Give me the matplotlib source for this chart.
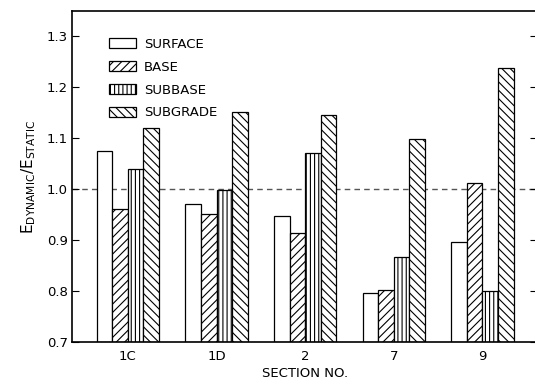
import numpy as np
import matplotlib
matplotlib.use('Agg')
import matplotlib.pyplot as plt

# 数据
sections = ['1C', '1D', '2', '7', '9']
layers = ['SURFACE', 'BASE', 'SUBBASE', 'SUBGRADE']
surface = [1.075, 0.970, 0.948, 0.796, 0.897]
base = [0.960, 0.951, 0.913, 0.802, 1.012]
subbase = [1.040, 0.998, 1.070, 0.867, 0.800]
subgrade = [1.120, 1.150, 1.145, 1.098, 1.238]

plt.rcParams['font.family'] = ['DejaVu Sans']
plt.rcParams['hatch.linewidth'] = 0.8

fig = plt.figure(figsize=(5.35, 3.85), dpi=100)
ax = fig.add_axes([0.1346, 0.1117, 0.87, 0.8597])

x = np.arange(len(sections))
w = 0.175
hatches = ['', '////', '||||', '\\\\\\\\']
series = [surface, base, subbase, subgrade]
bottom = 0.7
for i, (vals, h, lab) in enumerate(zip(series, hatches, layers)):
    ax.bar(x + (i - 1.5) * w, np.array(vals) - bottom, width=w, bottom=bottom,
           color='white', edgecolor='black', linewidth=0.9, hatch=h, label=lab)

ax.axhline(1.0, color='#555555', linestyle=(0, (4, 3)), linewidth=1.0, zorder=0)

ax.set_xlim(-0.63, 4.62)
ax.set_ylim(0.7, 1.349)
ax.set_xticks(x)
ax.set_xticklabels(sections, fontsize=9.5)
ax.set_yticks([0.7, 0.8, 0.9, 1.0, 1.1, 1.2, 1.3])
ax.set_yticklabels(['0.7', '0.8', '0.9', '1.0', '1.1', '1.2', '1.3'], fontsize=9.5)
ax.tick_params(axis='x', length=0, pad=6)
ax.tick_params(axis='y', direction='in', length=5, right=True, pad=3)
ax.spines['right'].set_visible(False)
for s in ['left', 'bottom', 'top']:
    ax.spines[s].set_linewidth(1.2)

ax.set_xlabel('SECTION NO.', fontsize=9.5, labelpad=3)
ax.set_ylabel(r'$\mathregular{E_{DYNAMIC}/E_{STATIC}}$', fontsize=11, labelpad=6)

ax.legend(loc='upper left', bbox_to_anchor=(0.055, 0.955), frameon=False, fontsize=9.5,
          handlelength=2.0, handleheight=0.8, labelspacing=0.75, handletextpad=0.6)

fig.savefig('out.png', dpi=100)
